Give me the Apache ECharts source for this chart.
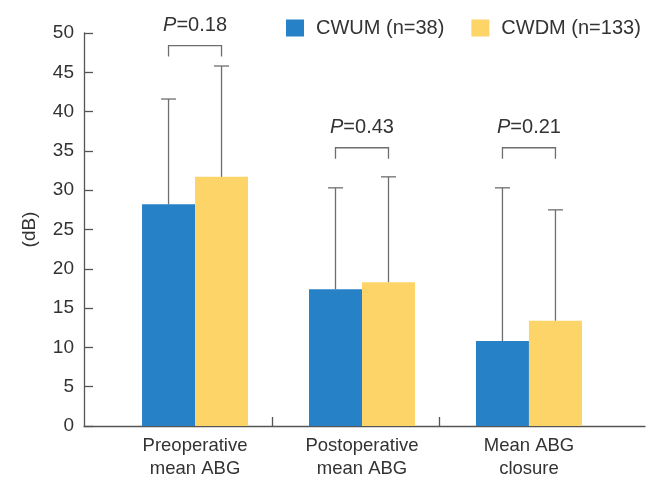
<!DOCTYPE html>
<html>
<head>
<meta charset="utf-8">
<script src="https://cdn.jsdelivr.net/npm/echarts@6/dist/echarts.min.js"></script>
<style>
  html, body { margin: 0; padding: 0; background: #fff; }
  #chart { width: 648px; height: 480px; }
</style>
</head>
<body>
<div id="chart"></div>
<script>
// values (dB)
const categories = ['Preoperative\nmean ABG', 'Postoperative\nmean ABG', 'Mean ABG\nclosure'];
const cwumMean = [28.2, 17.4, 10.8];
const cwumSd = [13.4, 12.9, 19.5];
const cwdmMean = [31.7, 18.3, 13.4];
const cwdmSd = [14.1, 13.4, 14.1];
const pValues = ['0.18', '0.43', '0.21'];
const bracketLevel = [48.4, 35.4, 35.4];

const FONT = '"Liberation Sans", Arial, sans-serif';
const TEXT = '#333';
const AXIS = '#555';
const BAR_W = 53;

const chart = echarts.init(document.getElementById('chart'));

function barItem(side, color) {
  return function (params, api) {
    const x = api.value(0);
    const m = api.value(1);
    const sd = api.value(2);
    const base = api.coord([x, 0]);
    const top = api.coord([x, m]);
    const err = api.coord([x, m + sd]);
    const cx = base[0] + side * BAR_W / 2;
    const lineStyle = { stroke: '#6d6e71', lineWidth: 1.3 };
    return {
      type: 'group',
      children: [
        { type: 'rect', shape: { x: cx - BAR_W / 2, y: top[1], width: BAR_W, height: base[1] - top[1] }, style: { fill: color } },
        { type: 'line', shape: { x1: cx, y1: top[1], x2: cx, y2: err[1] }, style: lineStyle },
        { type: 'line', shape: { x1: cx - 7.5, y1: err[1], x2: cx + 7.5, y2: err[1] }, style: lineStyle }
      ]
    };
  };
}

function bracketItem(params, api) {
  const p = api.coord([api.value(0), api.value(1)]);
  const l = p[0] - BAR_W / 2;
  const r = p[0] + BAR_W / 2;
  return {
    type: 'group',
    children: [
      {
        type: 'polyline',
        shape: { points: [[l, p[1] + 11], [l, p[1]], [r, p[1]], [r, p[1] + 11]] },
        style: { stroke: '#6d6e71', lineWidth: 1.3, fill: null }
      },
      {
        type: 'text',
        x: p[0],
        y: p[1] - 20,
        style: {
          text: '{i|P}{n|=' + pValues[params.dataIndex] + '}',
          align: 'center',
          verticalAlign: 'middle',
          fill: TEXT,
          rich: {
            i: { fontStyle: 'italic', fontSize: 20, fontFamily: FONT, fill: TEXT },
            n: { fontSize: 20, fontFamily: FONT, fill: TEXT }
          }
        }
      }
    ]
  };
}

const cwumData = categories.map((c, i) => [i + 1, cwumMean[i], cwumSd[i]]);
const cwdmData = categories.map((c, i) => [i + 1, cwdmMean[i], cwdmSd[i]]);
const bracketData = categories.map((c, i) => [i + 1, bracketLevel[i]]);

chart.setOption({
  animation: false,
  textStyle: { fontFamily: FONT, color: TEXT },
  grid: { left: 84, right: 3, top: 33, bottom: 54 },
  legend: {
    left: 286,
    top: 18,
    padding: 0,
    itemWidth: 18,
    itemHeight: 17,
    itemGap: 27,
    icon: 'rect',
    textStyle: { fontSize: 20, color: TEXT, fontFamily: FONT, padding: [0, 0, 0, 7] },
    data: ['CWUM (n=38)', 'CWDM (n=133)']
  },
  xAxis: {
    type: 'value',
    min: 0.335,
    max: 3.695,
    splitLine: { show: false },
    axisLine: { lineStyle: { color: AXIS, width: 1.3 } },
    axisTick: { inside: true, length: 9, lineStyle: { color: AXIS, width: 1.3 }, customValues: [1.46, 2.46] },
    axisLabel: {
      customValues: [1, 2, 3],
      formatter: v => categories[Math.round(v) - 1],
      fontSize: 18.5,
      lineHeight: 23,
      margin: 8,
      color: TEXT
    }
  },
  yAxis: {
    type: 'value',
    min: 0,
    max: 50,
    interval: 5,
    name: '(dB)',
    nameLocation: 'middle',
    nameGap: 45,
    nameTextStyle: { fontSize: 19, color: TEXT },
    splitLine: { show: false },
    axisLine: { show: true, lineStyle: { color: AXIS, width: 1.3 } },
    axisTick: { show: true, inside: true, length: 9, lineStyle: { color: AXIS, width: 1.3 } },
    axisLabel: { fontSize: 19, margin: 10, color: TEXT }
  },
  series: [
    {
      name: 'CWUM (n=38)',
      type: 'custom',
      itemStyle: { color: '#2781c7' },
      encode: { x: 0, y: 1 },
      renderItem: barItem(-1, '#2781c7'),
      data: cwumData
    },
    {
      name: 'CWDM (n=133)',
      type: 'custom',
      itemStyle: { color: '#fcd468' },
      encode: { x: 0, y: 1 },
      renderItem: barItem(1, '#fcd468'),
      data: cwdmData
    },
    {
      name: 'brackets',
      type: 'custom',
      encode: { x: 0, y: 1 },
      renderItem: bracketItem,
      data: bracketData
    }
  ]
});
</script>
</body>
</html>
